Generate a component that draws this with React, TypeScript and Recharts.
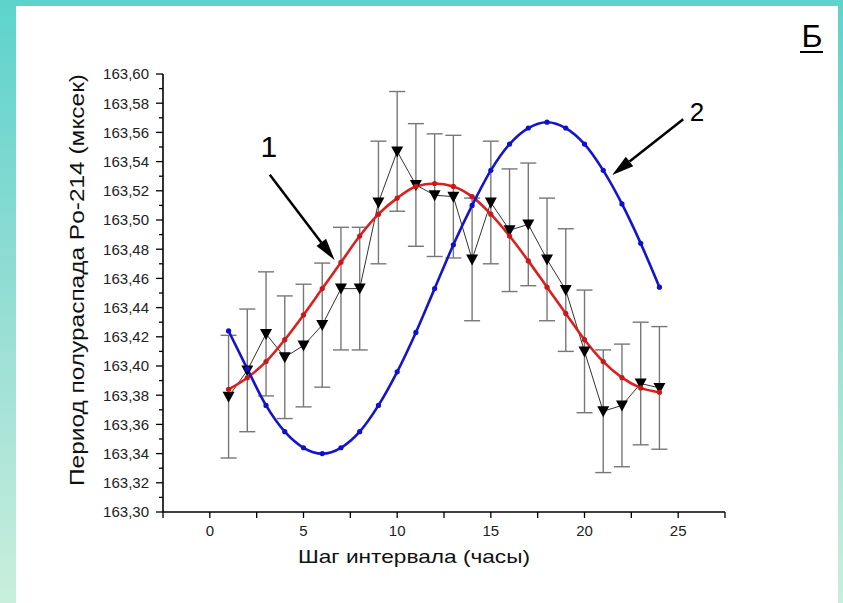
import { ComposedChart, Line, XAxis, YAxis, ErrorBar, ReferenceLine, ReferenceDot } from 'recharts';

const FONT = '"Liberation Sans", Arial, sans-serif';

// hours step
const T = [1, 2, 3, 4, 5, 6, 7, 8, 9, 10, 11, 12, 13, 14, 15, 16, 17, 18, 19, 20, 21, 22, 23, 24];
// measured half-life (triangles) and error
const MEAS = [163.379, 163.397, 163.422, 163.406, 163.414, 163.428, 163.453, 163.453, 163.512, 163.547, 163.524, 163.517, 163.516, 163.473, 163.512, 163.493, 163.497, 163.473, 163.452, 163.410, 163.369, 163.373, 163.388, 163.385];
const ERR = [0.042, 0.042, 0.0425, 0.042, 0.042, 0.0425, 0.042, 0.042, 0.042, 0.041, 0.042, 0.042, 0.042, 0.042, 0.042, 0.042, 0.042, 0.042, 0.042, 0.042, 0.042, 0.042, 0.042, 0.042];
// curve 1 (red) and curve 2 (blue)
const FIT1 = [163.384, 163.392, 163.403, 163.418, 163.435, 163.453, 163.471, 163.489, 163.504, 163.515, 163.523, 163.525, 163.523, 163.516, 163.504, 163.489, 163.472, 163.454, 163.436, 163.418, 163.403, 163.392, 163.385, 163.382];
const FIT2 = [163.424, 163.398, 163.373, 163.355, 163.344, 163.340, 163.344, 163.355, 163.373, 163.396, 163.423, 163.453, 163.483, 163.510, 163.534, 163.552, 163.563, 163.567, 163.563, 163.552, 163.534, 163.511, 163.484, 163.454];

const X_TICKS = [-2.5, 0, 2.5, 5, 7.5, 10, 12.5, 15, 17.5, 20, 22.5, 25, 27.5];
const X_LABELED = [0, 5, 10, 15, 20, 25];
const Y_TICKS = [
  163.30, 163.31, 163.32, 163.33, 163.34, 163.35, 163.36, 163.37, 163.38, 163.39,
  163.40, 163.41, 163.42, 163.43, 163.44, 163.45, 163.46, 163.47, 163.48, 163.49,
  163.50, 163.51, 163.52, 163.53, 163.54, 163.55, 163.56, 163.57, 163.58, 163.59, 163.60,
];

const data = T.map((t, i) => ({ t, meas: MEAS[i], err: ERR[i], fit1: FIT1[i], fit2: FIT2[i] }));

const YTick = (props: any) => {
  const { x, y, payload } = props;
  const major = Math.round(payload.value * 100) % 2 === 0;
  return (
    <g>
      <line x1={x - (major ? 7 : 4)} x2={x} y1={y} y2={y} stroke="#000" strokeWidth={1.3} />
      {major && (
        <text x={x - 14} y={y} dy="0.36em" textAnchor="end" fontSize={15} fill="#222" fontFamily={FONT}>
          {payload.value.toFixed(2).replace('.', ',')}
        </text>
      )}
    </g>
  );
};

const TriangleDot = (props: any) => {
  const { cx, cy } = props;
  if (cx == null || cy == null) return null;
  return <polygon points={`${cx - 6},${cy - 5} ${cx + 6},${cy - 5} ${cx},${cy + 6}`} fill="#000" />;
};

const Arrow = (props: any) => {
  const { x1, y1, x2, y2 } = props;
  const dx = x2 - x1;
  const dy = y2 - y1;
  const len = Math.hypot(dx, dy) || 1;
  const ux = dx / len;
  const uy = dy / len;
  const bx = x2 - ux * 22;
  const by = y2 - uy * 22;
  const nx = -uy * 6;
  const ny = ux * 6;
  return (
    <g>
      <line x1={x1} y1={y1} x2={bx} y2={by} stroke="#000" strokeWidth={2.5} />
      <polygon points={`${x2},${y2} ${bx + nx},${by + ny} ${bx - nx},${by - ny}`} fill="#000" />
    </g>
  );
};

export default function App() {
  return (
    <div style={{ position: 'absolute', left: 0, top: 0, width: 843, height: 603, background: 'linear-gradient(180deg, #5dd3cc 0%, #8fdcd3 45%, #c9eedc 100%)', fontFamily: FONT }}>
      <div style={{ position: 'absolute', left: 16, top: 6, width: 822, height: 597, background: '#fff' }} />
      <div style={{ position: 'absolute', left: 0, top: 0 }}>
        <ComposedChart width={843} height={603} data={data} margin={{ top: 74, right: 118, bottom: 41, left: 0 }}>
          <XAxis
            type="number"
            dataKey="t"
            domain={[-2.5, 27.5]}
            ticks={X_TICKS}
            interval={0}
            allowDataOverflow
            height={50}
            tickSize={6}
            tickMargin={7}
            tickFormatter={(v: number) => (X_LABELED.includes(v) ? String(v) : '')}
            axisLine={{ stroke: '#000', strokeWidth: 1.6 }}
            tickLine={{ stroke: '#000', strokeWidth: 1.3 }}
            tick={{ fontSize: 15, fill: '#222', fontFamily: FONT }}
          />
          <YAxis
            type="number"
            domain={[163.3, 163.6]}
            ticks={Y_TICKS}
            interval={0}
            allowDataOverflow
            width={163}
            tickSize={0}
            tickMargin={0}
            tickLine={false}
            axisLine={{ stroke: '#000', strokeWidth: 1.6 }}
            tick={YTick}
          />
          <Line dataKey="meas" stroke="#333" strokeWidth={1} dot={TriangleDot} activeDot={false} isAnimationActive={false} type="linear">
            <ErrorBar dataKey="err" direction="y" width={8} stroke="#777" strokeWidth={1.4} />
          </Line>
          <Line dataKey="fit1" type="monotone" stroke="#dd1f1f" strokeWidth={2.6} dot={{ r: 2.6, fill: '#c81818', stroke: 'none' }} activeDot={false} isAnimationActive={false} />
          <Line dataKey="fit2" type="monotone" stroke="#1414cc" strokeWidth={2.6} dot={{ r: 2.6, fill: '#0f0fd0', stroke: 'none' }} activeDot={false} isAnimationActive={false} />
          <ReferenceLine segment={[{ x: 3.2, y: 163.531 }, { x: 6.66, y: 163.4726 }]} shape={Arrow} ifOverflow="visible" />
          <ReferenceLine segment={[{ x: 25.27, y: 163.569 }, { x: 21.48, y: 163.5308 }]} shape={Arrow} ifOverflow="visible" />
          <ReferenceDot x={3.15} y={163.5507} r={0} fill="none" stroke="none" ifOverflow="visible"
            label={{ value: '1', position: 'center', fontSize: 30, fill: '#000', fontFamily: FONT }} />
          <ReferenceDot x={26.0} y={163.574} r={0} fill="none" stroke="none" ifOverflow="visible"
            label={{ value: '2', position: 'center', fontSize: 26, fill: '#000', fontFamily: FONT }} />
        </ComposedChart>
      </div>
      <svg width={843} height={603} style={{ position: 'absolute', left: 0, top: 0, pointerEvents: 'none' }}>
        <text x={414} y={563} textAnchor="middle" fontSize={19} fill="#111" fontFamily={FONT} textLength={232} lengthAdjust="spacingAndGlyphs">
          Шаг интервала (часы)
        </text>
        <text transform="translate(84,280) rotate(-90)" textAnchor="middle" fontSize={20} fill="#111" fontFamily={FONT} textLength={412} lengthAdjust="spacingAndGlyphs">
          Период полураспада Po-214 (мксек)
        </text>
        <text x={812} y={47} textAnchor="middle" fontSize={32} fill="#000" fontFamily={FONT}>Б</text>
        <line x1={800} x2={823} y1={52} y2={52} stroke="#000" strokeWidth={2} />
      </svg>
    </div>
  );
}
